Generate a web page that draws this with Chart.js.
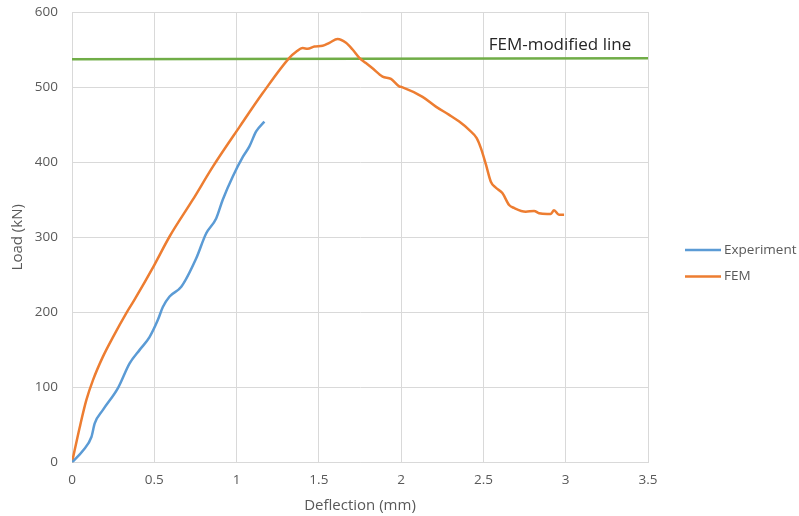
<!DOCTYPE html>
<html>
<head>
<meta charset="utf-8">
<script src="https://cdn.jsdelivr.net/npm/chart.js@4"></script>
<style>
    html, body { margin: 0; padding: 0; background: #fff; }
    #wrap { width: 799px; height: 516px; }
</style>
</head>
<body>
<div id="wrap"><canvas id="loadChart"></canvas></div>
<script>
// deflection (mm) / load (kN)
const expX = [0, 0.067, 0.118, 0.138, 0.188, 0.279, 0.35, 0.411, 0.471, 0.522, 0.552, 0.593, 0.664, 0.755, 0.815, 0.876, 0.916, 0.977, 1.038, 1.078, 1.119, 1.169];
const expY = [0, 16, 34, 52, 70, 99, 132, 150, 167, 190, 207, 221, 234, 272, 305, 325, 350, 381, 407, 421, 441, 454];

const femX = [0, 0.047, 0.087, 0.128, 0.188, 0.249, 0.33, 0.38, 0.5, 0.593, 0.734, 0.856, 1.018, 1.159, 1.321, 1.362, 1.402, 1.432, 1.473, 1.523, 1.564, 1.614, 1.665, 1.705, 1.746, 1.786, 1.826, 1.887, 1.938, 1.988, 2.005, 2.13, 2.211, 2.292, 2.353, 2.413, 2.459, 2.484, 2.515, 2.545, 2.575, 2.615, 2.656, 2.686, 2.757, 2.808, 2.838, 2.888, 2.909, 2.929, 2.959, 2.99];
const femY = [0, 47, 83, 110, 141, 167, 199, 217, 263, 301, 350, 394, 447, 492, 539, 547, 552, 551, 554, 555, 559, 564, 559, 550, 539, 532, 525, 514, 511, 501, 500, 487, 474, 463, 454, 443, 432, 419, 397, 374, 366, 359, 343, 339, 334, 335, 332, 331, 331, 336, 330, 330];

const lineX = [0, 3.5];
const lineY = [537, 538.5];

const xTicks = [0, 0.5, 1, 1.5, 2, 2.5, 3, 3.5];
const yTicks = [0, 100, 200, 300, 400, 500, 600];

const seriesNames = ["Experiment", "FEM"];
const lineLabel = "FEM-modified line";

const BLUE = "#5b9bd5";
const ORANGE = "#ed7d31";
const GREEN = "#70ad47";
const GRID = "#d9d9d9";
const TEXT = "#595959";
const FONT = "'Open Sans', 'Noto Sans', sans-serif";

function toPoints(xs, ys) {
    return xs.map((x, i) => ({ x: x, y: ys[i] }));
}

// legend on the right and the label above the green line
const extrasPlugin = {
    id: "extras",
    afterDraw(chart) {
        const ctx = chart.ctx;
        const xs = chart.scales.x;
        const ys = chart.scales.y;

        ctx.save();
        ctx.font = "17px " + FONT;
        ctx.fillStyle = "#262626";
        ctx.textAlign = "center";
        ctx.textBaseline = "middle";
        ctx.fillText(lineLabel, xs.getPixelForValue(2.965), ys.getPixelForValue(556));

        const colors = [BLUE, ORANGE];
        ctx.font = "13.5px " + FONT;
        ctx.fillStyle = TEXT;
        ctx.textAlign = "left";
        seriesNames.forEach((name, i) => {
            const y = 250 + i * 26.5;
            ctx.strokeStyle = colors[i];
            ctx.lineWidth = 2.5;
            ctx.beginPath();
            ctx.moveTo(685, y);
            ctx.lineTo(721, y);
            ctx.stroke();
            ctx.fillText(name, 724, y);
        });
        ctx.restore();
    }
};

new Chart(document.getElementById("loadChart"), {
    type: "scatter",
    data: {
        datasets: [
            {
                label: seriesNames[0],
                data: toPoints(expX, expY),
                borderColor: BLUE,
                borderWidth: 2.5,
                showLine: true,
                pointRadius: 0,
                cubicInterpolationMode: "monotone"
            },
            {
                label: seriesNames[1],
                data: toPoints(femX, femY),
                borderColor: ORANGE,
                borderWidth: 2.5,
                showLine: true,
                pointRadius: 0,
                cubicInterpolationMode: "monotone"
            },
            {
                label: lineLabel,
                data: toPoints(lineX, lineY),
                borderColor: GREEN,
                borderWidth: 2.5,
                showLine: true,
                pointRadius: 0
            }
        ]
    },
    options: {
        responsive: true,
        maintainAspectRatio: false,
        animation: false,
        layout: {
            padding: { top: 12, right: 151, bottom: 0, left: 0 }
        },
        plugins: {
            legend: { display: false },
            tooltip: { enabled: false }
        },
        scales: {
            x: {
                type: "linear",
                min: 0,
                max: 3.5,
                afterBuildTicks: axis => {
                    axis.ticks = xTicks.map(v => ({ value: v }));
                },
                afterFit: axis => {
                    axis.height = 53.5;
                },
                ticks: {
                    color: TEXT,
                    font: { family: FONT, size: 13.5 },
                    padding: 10,
                    maxRotation: 0,
                    callback: value => String(value)
                },
                grid: { color: GRID, drawTicks: false },
                border: { color: GRID },
                title: {
                    display: true,
                    text: "Deflection (mm)",
                    color: TEXT,
                    font: { family: FONT, size: 15 },
                    padding: { top: 0, bottom: 1 }
                }
            },
            y: {
                min: 0,
                max: 600,
                afterBuildTicks: axis => {
                    axis.ticks = yTicks.map(v => ({ value: v }));
                },
                afterFit: axis => {
                    axis.width = 72;
                    // keep the plot top tied to the layout padding only
                    axis.paddingTop = 0;
                    axis.paddingBottom = 0;
                },
                ticks: {
                    color: TEXT,
                    font: { family: FONT, size: 13.5 },
                    padding: 14,
                    callback: value => String(value)
                },
                grid: { color: GRID, drawTicks: false },
                border: { color: GRID },
                title: {
                    display: true,
                    text: "Load (kN)",
                    color: TEXT,
                    font: { family: FONT, size: 15 },
                    padding: { top: 9, bottom: 0 }
                }
            }
        }
    },
    plugins: [extrasPlugin]
});
</script>
</body>
</html>
